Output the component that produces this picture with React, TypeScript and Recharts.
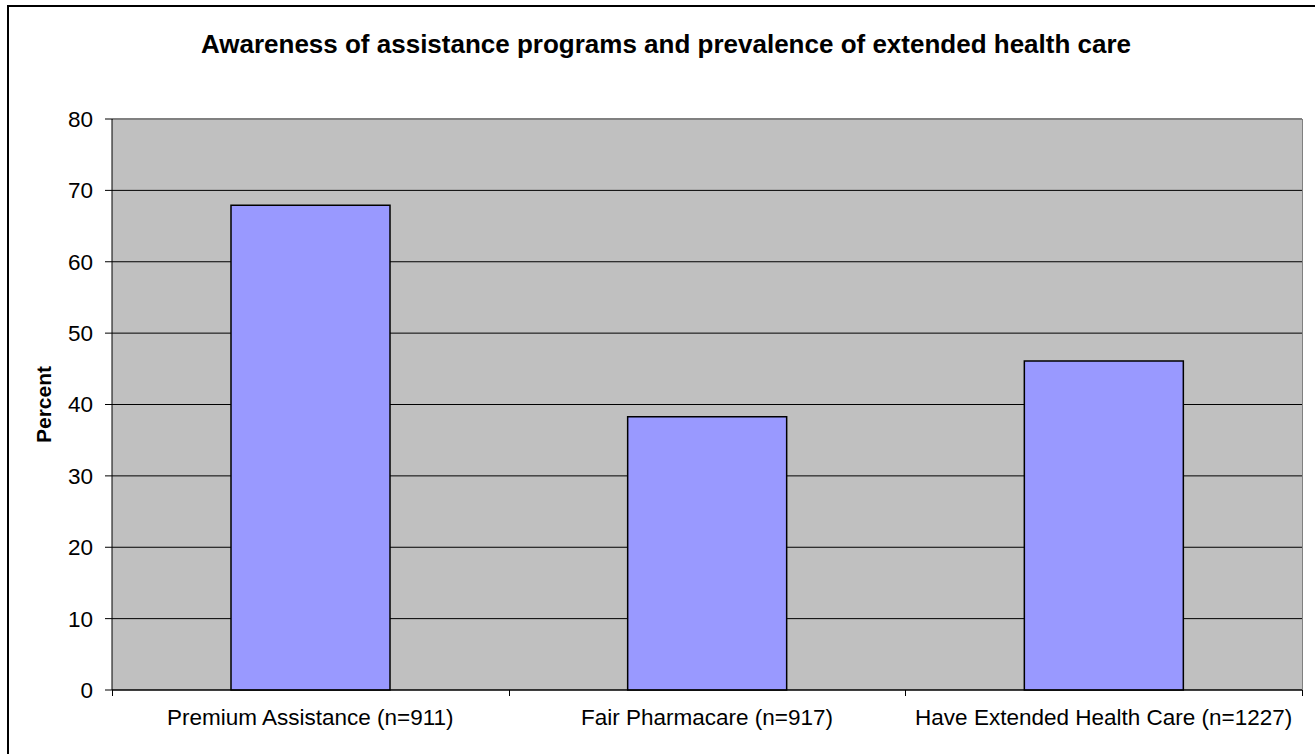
import { BarChart, Bar, XAxis, YAxis, CartesianGrid, Label } from "recharts";

const categories = [
  "Premium Assistance (n=911)",
  "Fair Pharmacare (n=917)",
  "Have Extended Health Care (n=1227)",
];
const percentValues = [67.9, 38.3, 46.1];
const yTicks = [0, 10, 20, 30, 40, 50, 60, 70, 80];

const data = categories.map((name, i) => ({ name, value: percentValues[i] }));

const FONT = "'Liberation Sans', Arial, sans-serif";

// plot box, used for the thin frame pieces drawn around the chart
const PLOT = { left: 112, top: 119, right: 1302, bottom: 690 };

export default function App() {
  return (
    <div
      style={{
        position: "absolute",
        left: 0,
        top: 0,
        width: 1315,
        height: 754,
        background: "#fff",
        overflow: "hidden",
        fontFamily: FONT,
      }}
    >
      {/* outer chart frame, only left/top edges visible */}
      <div
        style={{
          position: "absolute",
          left: 7,
          top: 5,
          width: 1400,
          height: 800,
          borderLeft: "2px solid #000",
          borderTop: "2px solid #000",
        }}
      />
      <div
        style={{
          position: "absolute",
          left: 16,
          top: 28,
          width: 1300,
          textAlign: "center",
          fontWeight: "bold",
          fontSize: 26,
          lineHeight: "32px",
          color: "#000",
        }}
      >
        Awareness of assistance programs and prevalence of extended health care
      </div>
      <BarChart
        width={1315}
        height={754}
        data={data}
        margin={{ top: PLOT.top, right: 1315 - PLOT.right, bottom: 0, left: 0 }}
        barCategoryGap="30%"
        style={{ position: "absolute", left: 0, top: 0 }}
      >
        <CartesianGrid
          vertical={false}
          stroke="#000"
          strokeWidth={1}
          fill="#C0C0C0"
        />
        <XAxis
          dataKey="name"
          height={754 - PLOT.bottom}
          stroke="#000"
          tickLine={false}
          tick={{ fill: "#000", fontSize: 22.5, fontFamily: FONT }}
          tickMargin={13}
          interval={0}
        />
        <YAxis
          width={PLOT.left}
          domain={[0, 80]}
          ticks={yTicks}
          stroke="#000"
          tickSize={7}
          tick={{ fill: "#000", fontSize: 22.5, fontFamily: FONT }}
          tickMargin={12}
          interval={0}
        >
          <Label
            value="Percent"
            angle={-90}
            position="insideLeft"
            offset={44}
            style={{ fontWeight: "bold", fontSize: 21, fill: "#000", fontFamily: FONT, textAnchor: "middle" }}
          />
        </YAxis>
        <Bar
          dataKey="value"
          fill="#9999FF"
          stroke="#000"
          strokeWidth={1.5}
          isAnimationActive={false}
        />
      </BarChart>
      {/* grey plot frame on top and right */}
      <div
        style={{
          position: "absolute",
          left: PLOT.left + 1,
          top: PLOT.top,
          width: PLOT.right - PLOT.left,
          height: 1,
          background: "#808080",
        }}
      />
      <div
        style={{
          position: "absolute",
          left: PLOT.right,
          top: PLOT.top,
          width: 1,
          height: PLOT.bottom - PLOT.top,
          background: "#808080",
        }}
      />
      {/* category boundary ticks below x axis */}
      {[0, 1, 2, 3].map((i) => (
        <div
          key={i}
          style={{
            position: "absolute",
            left: PLOT.left + ((PLOT.right - PLOT.left) / 3) * i,
            top: PLOT.bottom,
            width: 1,
            height: 6,
            background: "#000",
          }}
        />
      ))}
    </div>
  );
}
